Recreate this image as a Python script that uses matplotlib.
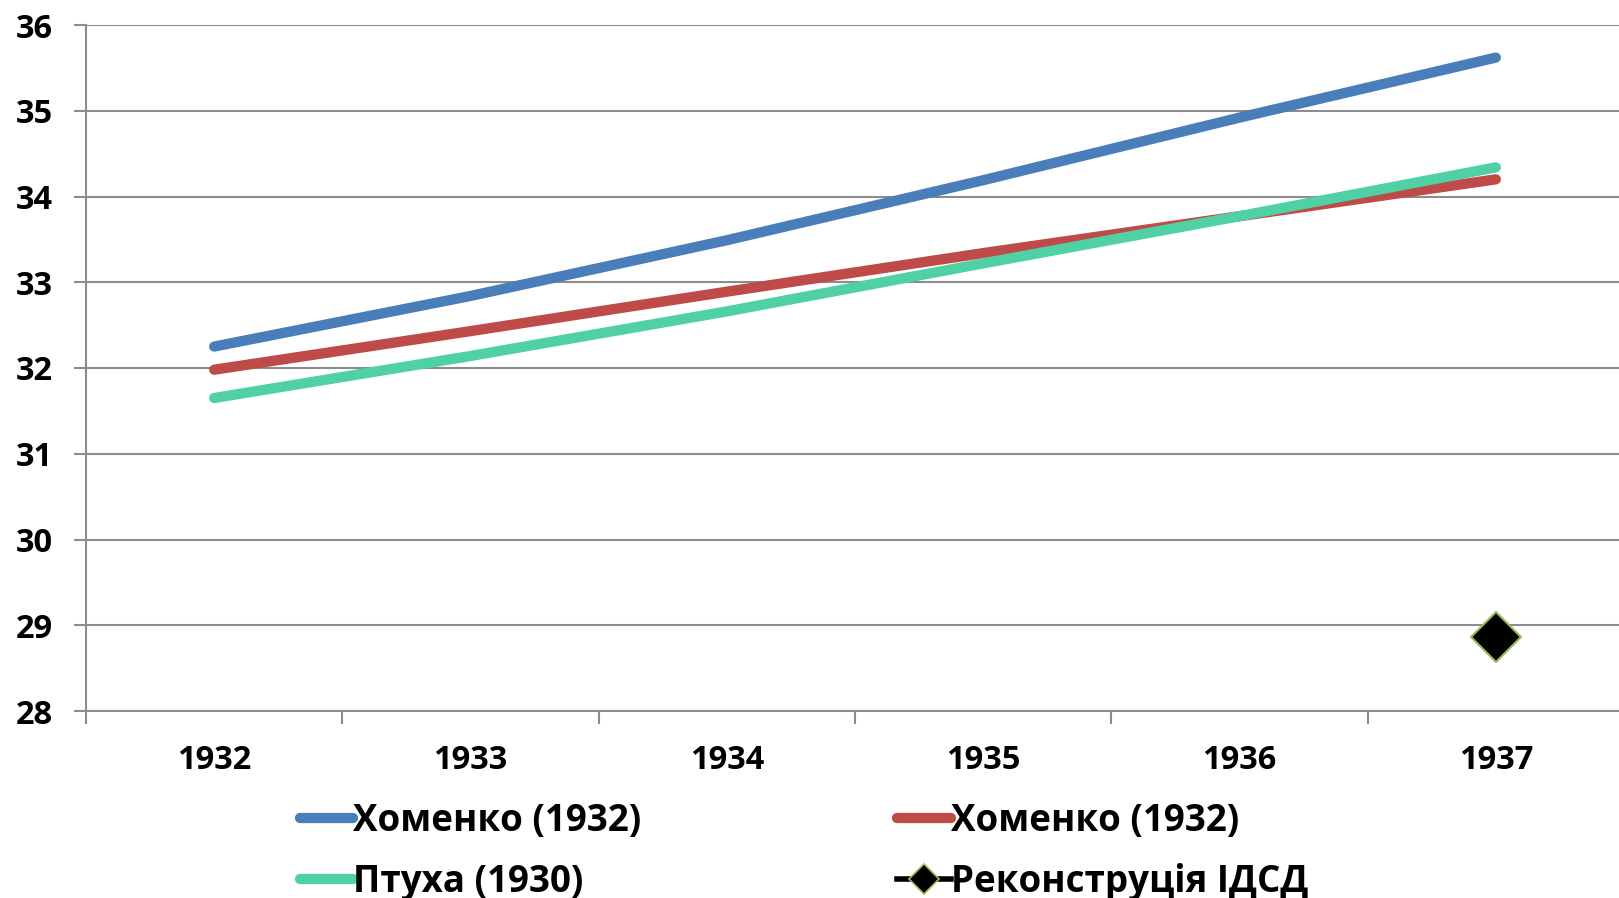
import matplotlib
matplotlib.use("Agg")
import matplotlib.pyplot as plt
from matplotlib.lines import Line2D
import numpy as np

years = ["1932", "1933", "1934", "1935", "1936", "1937"]
khomenko_a = [32.25, 32.84, 33.49, 34.19, 34.92, 35.62]
khomenko_b = [31.98, 32.43, 32.89, 33.34, 33.77, 34.20]
ptukha = [31.65, 32.14, 32.66, 33.22, 33.77, 34.34]
idsd_year_index = [5]
idsd_values = [28.86]

labels = ["Хоменко (1932)", "Хоменко (1932)", "Птуха (1930)", "Реконструція ІДСД"]
colors = ["#4A7EBB", "#BE4B48", "#4FD1A5"]

plt.rcParams['font.family'] = ['Open Sans', 'DejaVu Sans']

fig = plt.figure(figsize=(16.19, 8.98), dpi=100)
ax = fig.add_axes([86/1619, 1 - 711/898, (1624 - 86)/1619, (711 - 25)/898])

x = np.arange(len(years))
handles = []
for vals, c, lab in zip([khomenko_a, khomenko_b, ptukha], colors, labels[:3]):
    h, = ax.plot(x, vals, color=c, lw=7.4, solid_capstyle='round', solid_joinstyle='round', label=lab, zorder=3)
    handles.append(h)
ax.plot(idsd_year_index, idsd_values, linestyle='none', marker='D', markersize=25,
        markerfacecolor='black', markeredgecolor='#9BBB59', markeredgewidth=1.5, zorder=4)
handles.append(Line2D([], [], color='black', lw=4, marker='D', markersize=15,
                      markerfacecolor='black', markeredgecolor='#9BBB59', markeredgewidth=1.2))

ax.set_ylim(28, 36)
ax.set_xlim(-0.5, 5.5)
ax.set_yticks(range(28, 37))
ax.grid(axis='y', color='#8c8c8c', lw=1.5)
ax.set_axisbelow(True)
for s in ['top', 'right']:
    ax.spines[s].set_visible(False)
for s in ['left', 'bottom']:
    ax.spines[s].set_color('#8c8c8c')
    ax.spines[s].set_linewidth(1.5)

ax.set_xticks(np.arange(-0.5, 6.0, 1.0))
ax.set_xticklabels([])
ax.set_xticks(x, minor=True)
ax.set_xticklabels(years, minor=True)
ax.tick_params(axis='x', which='major', length=9, width=1.5, color='#8c8c8c')
ax.tick_params(axis='x', which='minor', length=0, pad=24)
ax.tick_params(axis='y', length=9, width=1.5, color='#8c8c8c', pad=15)
for lab in ax.get_yticklabels() + ax.get_xticklabels(minor=True):
    lab.set_fontsize(23.5)
    lab.set_fontweight('bold')

# row-major legend order: (blue, red) / (green, idsd)
order = [0, 2, 1, 3]
fig.legend([handles[i] for i in order], [labels[i] for i in order],
           loc='upper left', bbox_to_anchor=(300/1619, 1 - 802/898),
           ncol=2, frameon=False, handlelength=1.45, handletextpad=0.0, columnspacing=6.95,
           labelspacing=0.62, borderaxespad=0, borderpad=0,
           prop={'family': 'Open Sans', 'weight': 'bold', 'size': 26.5})

fig.savefig("out.png", dpi=100)
